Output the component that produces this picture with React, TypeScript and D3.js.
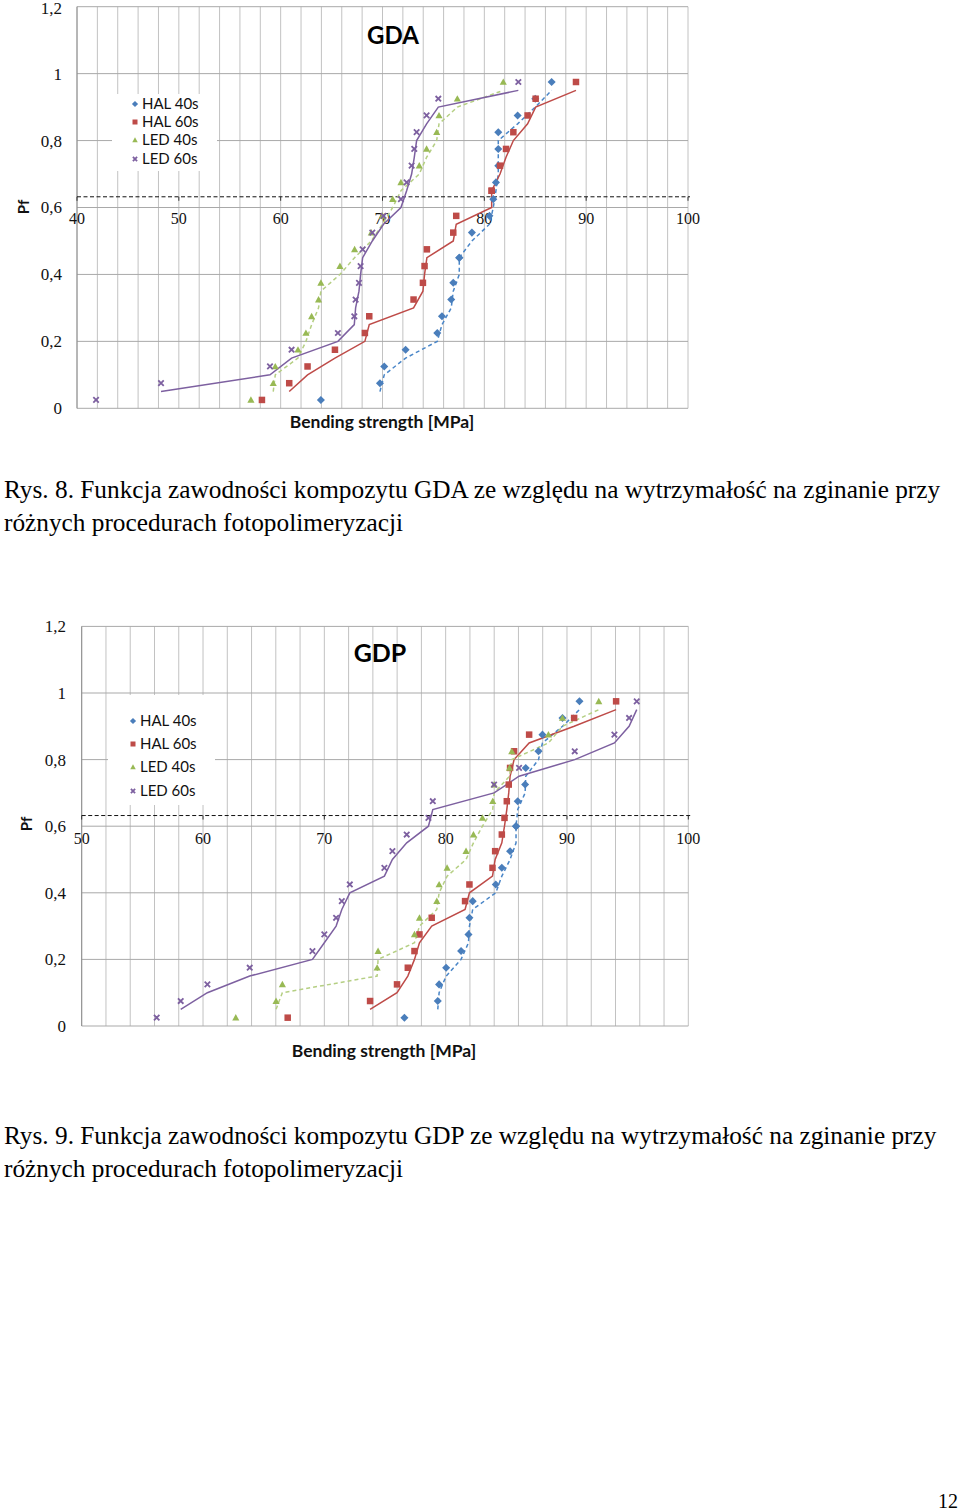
import React from "react";
import * as d3 from "d3";

// ---------- shared ----------
const seriesNames = ["HAL 40s", "HAL 60s", "LED 40s", "LED 60s"];
const seriesColors = ["#4A7EBB", "#BE4B48", "#98B954", "#7D60A0"];
const lineColors = ["#4A86C8", "#BE4B48", "#B5CF83", "#7D60A0"];
const yTicks = [0, 0.2, 0.4, 0.6, 0.8, 1, 1.2];
const yTickLabels = ["0", "0,2", "0,4", "0,6", "0,8", "1", "1,2"];
const characteristicPf = 0.632;
const linePf = [0.05, 0.1, 0.15, 0.2, 0.25, 0.3, 0.35, 0.4, 0.45, 0.5, 0.55, 0.6, 0.65, 0.7, 0.75, 0.8, 0.85, 0.9, 0.95];
const pfStandard = [0.025, 0.075, 0.125, 0.175, 0.225, 0.275, 0.325, 0.375, 0.425, 0.475, 0.525, 0.575, 0.625, 0.675, 0.725, 0.775, 0.825, 0.875, 0.925, 0.975];

// ---------- GDA ----------
const gdaXTicks = [40, 50, 60, 70, 80, 90, 100];
const gdaHal40 = [63.95, 69.75, 70.17, 72.27, 75.38, 75.84, 76.75, 76.95, 77.54, 77.54, 78.78, 80.5, 80.88, 81.14, 81.37, 81.37, 81.37, 83.27, 85.0, 86.61];
const gdaHal40Pf = [0.025, 0.075, 0.125, 0.175, 0.225, 0.275, 0.325, 0.375, 0.45, 0.45, 0.525, 0.575, 0.625, 0.675, 0.725, 0.775, 0.825, 0.875, 0.925, 0.975];
const gdaHal60 = [58.16, 60.84, 62.64, 65.33, 68.27, 68.7, 73.05, 73.97, 74.13, 74.36, 76.95, 77.24, 80.72, 80.72, 81.54, 82.13, 82.85, 84.25, 85.04, 89.0];
const gdaHal60Pf = [0.025, 0.075, 0.125, 0.175, 0.225, 0.275, 0.325, 0.375, 0.425, 0.475, 0.525, 0.575, 0.65, 0.65, 0.725, 0.775, 0.825, 0.875, 0.925, 0.975];
const gdaLed40 = [57.08, 59.27, 59.47, 61.7, 62.48, 63.04, 63.72, 63.95, 65.82, 67.26, 68.9, 70.0, 71.0, 71.81, 73.61, 74.33, 75.32, 75.55, 77.35, 81.86];
const gdaLed40Pf = pfStandard;
const gdaLed60 = [41.87, 48.25, 58.95, 61.07, 65.62, 67.23, 67.36, 67.69, 67.85, 68.05, 69.0, 70.1, 71.81, 72.37, 72.86, 73.12, 73.35, 74.33, 75.48, 83.34];
const gdaLed60Pf = pfStandard;

// ---------- GDP ----------
const gdpXTicks = [50, 60, 70, 80, 90, 100];
const gdpHal40 = [76.6, 79.35, 79.46, 80.04, 81.27, 81.88, 81.96, 82.23, 84.13, 84.63, 85.31, 85.8, 85.8, 85.94, 86.55, 86.6, 87.65, 87.98, 89.63, 91.03];
const gdpHal40Pf = [0.025, 0.075, 0.125, 0.175, 0.225, 0.275, 0.325, 0.375, 0.425, 0.475, 0.525, 0.6, 0.6, 0.675, 0.725, 0.775, 0.825, 0.875, 0.925, 0.975];
const gdpHal60 = [66.98, 73.77, 75.99, 76.88, 77.43, 77.84, 78.85, 81.6, 81.96, 83.86, 84.08, 84.63, 84.85, 85.04, 85.2, 85.31, 85.64, 86.88, 90.59, 94.05];
const gdpHal60Pf = pfStandard;
const gdpLed40 = [62.7, 66.02, 66.54, 74.35, 74.43, 77.43, 77.84, 79.27, 79.46, 80.12, 81.68, 82.29, 83.03, 83.88, 84.0, 85.26, 85.45, 88.47, 89.63, 92.62];
const gdpLed40Pf = pfStandard;
const gdpLed60 = [56.18, 58.16, 60.36, 63.85, 69.02, 70.0, 70.97, 71.44, 72.1, 74.95, 75.61, 76.79, 78.58, 78.94, 83.99, 86.05, 90.64, 93.91, 95.12, 95.75];
const gdpLed60Pf = pfStandard;

type ChartCfg = {
  title: string;
  xDomain: [number, number];
  xTicks: number[];
  strengths: number[][];
  pfs: number[][];
  left: number; right: number; top: number; bottom: number;
  titleX: number; titleY: number; titleSize: number;
  legend: { x: number; y: number; w: number; h: number; markerX: number; textX: number; rows: number[] };
  yLabelRight: number;
  xLabelY: number;
  axisTitleX: number; axisTitleY: number;
  pfX: number; pfY: number;
};

function Marker({ kind, x, y, color, s }: { kind: number; x: number; y: number; color: string; s: number }) {
  if (kind === 0) {
    const r = s * 0.62;
    return <path d={`M${x},${y - r}L${x + r},${y}L${x},${y + r}L${x - r},${y}Z`} fill={color} />;
  }
  if (kind === 1) {
    const h = s / 2;
    return <rect x={x - h} y={y - h} width={s} height={s} fill={color} />;
  }
  if (kind === 2) {
    const h = s * 0.55;
    return <path d={`M${x},${y - h}L${x + h},${y + h * 0.8}L${x - h},${y + h * 0.8}Z`} fill={color} />;
  }
  const h = s * 0.42;
  return (
    <path d={`M${x - h},${y - h}L${x + h},${y + h}M${x - h},${y + h}L${x + h},${y - h}`} stroke={color} strokeWidth={1.8} fill="none" />
  );
}

function Chart({ c }: { c: ChartCfg }) {
  const x = d3.scaleLinear().domain(c.xDomain).range([c.left, c.right]);
  const y = d3.scaleLinear().domain([0, 1.2]).range([c.bottom, c.top]);
  const minor = d3.range(c.xDomain[0], c.xDomain[1] + 0.001, 2);
  const lineGen = d3.line<[number, number]>().x((d) => x(d[0])).y((d) => y(d[1]));
  const yc = y(characteristicPf);
  const dashes = ["4,3", null, "4,3", null];
  return (
    <g>
      {minor.map((v) => (
        <line key={"v" + v} x1={x(v)} x2={x(v)} y1={c.top} y2={c.bottom} stroke="#c2c2c2" strokeWidth={1} />
      ))}
      {yTicks.map((v) => (
        <line key={"h" + v} x1={c.left} x2={c.right} y1={y(v)} y2={y(v)} stroke="#a9a9a9" strokeWidth={1} />
      ))}
      <line x1={c.left} x2={c.left} y1={c.top} y2={c.bottom} stroke="#8c8c8c" strokeWidth={1} />
      {/* legend box */}
      <rect x={c.legend.x} y={c.legend.y} width={c.legend.w} height={c.legend.h} fill="#fff" />
      {seriesNames.map((n, i) => (
        <g key={n}>
          <Marker kind={i} x={c.legend.markerX} y={c.legend.rows[i]} color={seriesColors[i]} s={5} />
          <text x={c.legend.textX} y={c.legend.rows[i]} dy="0.35em" fontFamily="Lato, 'Open Sans', sans-serif" fontSize={15} fill="#111">
            {n}
          </text>
        </g>
      ))}
      {/* characteristic line / axis */}
      <line x1={c.left} x2={c.right + 2} y1={yc} y2={yc} stroke="#111" strokeWidth={1} strokeDasharray="4,2.5" />
      {c.xTicks.map((v) => (
        <line key={"t" + v} x1={x(v)} x2={x(v)} y1={yc} y2={yc + 4} stroke="#333" strokeWidth={1} />
      ))}
      {c.xTicks.map((v) => (
        <text key={"xl" + v} x={x(v)} y={c.xLabelY} textAnchor="middle" fontFamily="'Liberation Serif', 'Times New Roman', serif" fontSize={16} fill="#111">
          {v}
        </text>
      ))}
      {yTicks.map((v, i) => (
        <text key={"yl" + v} x={c.yLabelRight} y={Math.max(y(v), 8.5)} dy="0.35em" textAnchor="end" fontFamily="'Liberation Serif', 'Times New Roman', serif" fontSize={17} fill="#111">
          {yTickLabels[i]}
        </text>
      ))}
      {/* series lines */}
      {c.strengths.map((s, i) => {
        const pts: [number, number][] = linePf.map((p, j) => [s[j + 1], p]);
        return (
          <path key={"l" + i} d={lineGen(pts) || ""} fill="none" stroke={lineColors[i]} strokeWidth={1.5} strokeDasharray={dashes[i] || undefined} />
        );
      })}
      {/* markers */}
      {c.strengths.map((s, i) =>
        s.map((v, j) => <Marker key={"m" + i + "-" + j} kind={i} x={x(v)} y={y(c.pfs[i][j])} color={seriesColors[i]} s={6.5} />)
      )}
      <text x={c.titleX} y={c.titleY} textAnchor="middle" fontFamily="Lato, 'Open Sans', sans-serif" fontWeight="bold" fontSize={c.titleSize} fill="#000">
        {c.title}
      </text>
      <text x={c.axisTitleX} y={c.axisTitleY} textAnchor="middle" fontFamily="Lato, 'Open Sans', sans-serif" fontWeight="bold" fontSize={17.5} fill="#111">
        Bending strength [MPa]
      </text>
      <text transform={`translate(${c.pfX},${c.pfY}) rotate(-90)`} textAnchor="middle" dy="0.35em" fontFamily="Lato, 'Open Sans', sans-serif" fontWeight="bold" fontSize={15} fill="#111">
        Pf
      </text>
    </g>
  );
}

const gdaCfg: ChartCfg = {
  title: "GDA",
  xDomain: [40, 100],
  xTicks: gdaXTicks,
  strengths: [gdaHal40, gdaHal60, gdaLed40, gdaLed60],
  pfs: [gdaHal40Pf, gdaHal60Pf, gdaLed40Pf, gdaLed60Pf],
  left: 77, right: 688, top: 6.7, bottom: 408.3,
  titleX: 393, titleY: 44, titleSize: 24,
  legend: { x: 112, y: 94, w: 105, h: 77, markerX: 135, textX: 142, rows: [104, 122, 140, 159] },
  yLabelRight: 62,
  xLabelY: 223.5,
  axisTitleX: 382, axisTitleY: 428,
  pfX: 24, pfY: 207,
};

const gdpCfg: ChartCfg = {
  title: "GDP",
  xDomain: [50, 100],
  xTicks: gdpXTicks,
  strengths: [gdpHal40, gdpHal60, gdpLed40, gdpLed60],
  pfs: [gdpHal40Pf, gdpHal60Pf, gdpLed40Pf, gdpLed60Pf],
  left: 81.7, right: 688.3, top: 626.4, bottom: 1026,
  titleX: 380, titleY: 661.5, titleSize: 25,
  legend: { x: 108, y: 695, w: 107, h: 110, markerX: 133, textX: 140, rows: [721, 744, 767, 791] },
  yLabelRight: 66,
  xLabelY: 843.5,
  axisTitleX: 384, axisTitleY: 1057,
  pfX: 27, pfY: 824,
};

const caption8 = ["Rys. 8. Funkcja zawodności kompozytu GDA ze względu na wytrzymałość na zginanie przy", "różnych procedurach fotopolimeryzacji"];
const caption9 = ["Rys. 9. Funkcja zawodności kompozytu GDP ze względu na wytrzymałość na zginanie przy", "różnych procedurach fotopolimeryzacji"];

export default function App() {
  const serif = "'Liberation Serif', 'Times New Roman', serif";
  return (
    <svg width={960} height={1511} style={{ position: "absolute", left: 0, top: 0, background: "#fff" }}>
      <rect width={960} height={1511} fill="#fff" />
      <Chart c={gdaCfg} />
      <Chart c={gdpCfg} />
      {caption8.map((t, i) => (
        <text key={"c8" + i} x={4} y={498 + i * 33} fontFamily={serif} fontSize={25.3} fill="#000">{t}</text>
      ))}
      {caption9.map((t, i) => (
        <text key={"c9" + i} x={4} y={1144 + i * 33} fontFamily={serif} fontSize={25.3} fill="#000">{t}</text>
      ))}
      <text x={958} y={1508} textAnchor="end" fontFamily={serif} fontSize={20} fill="#000">12</text>
    </svg>
  );
}
